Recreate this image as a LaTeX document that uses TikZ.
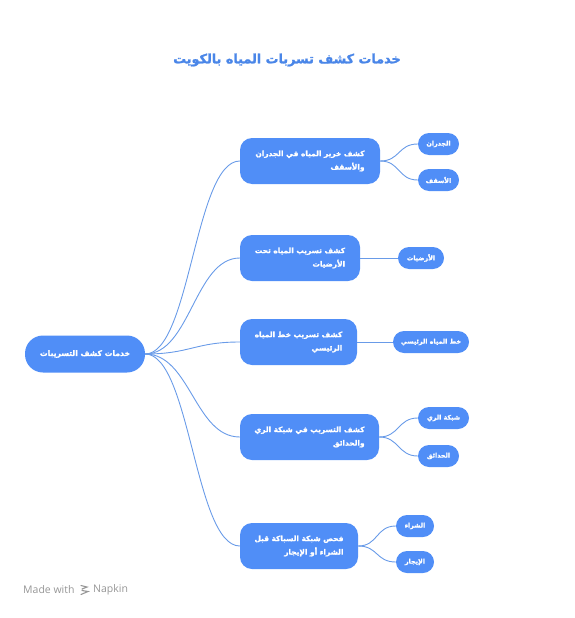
\documentclass[tikz,border=0pt]{standalone}
\usepackage{fontspec}
\usetikzlibrary{calc}
\TeXXeTstate=1
\newfontfamily\arabicbold[Script=Arabic, FakeBold=1.6]{DejaVu Sans Bold}
\newfontfamily\wmfont{Open Sans}
\definecolor{nodeblue}{RGB}{80,142,247}
\definecolor{lineblue}{RGB}{105,155,232}
\definecolor{titleblue}{RGB}{74,134,232}
\definecolor{wmgray}{RGB}{150,150,150}
\begin{document}
\begin{tikzpicture}[x=1pt,y=-1pt,
  midbox/.style={fill=nodeblue, rounded corners=12pt, minimum height=46pt, inner xsep=6pt, inner ysep=0pt, text=white, font=\arabicbold\fontsize{7.4}{13.5}\selectfont, align=right},
  rootbox/.style={fill=nodeblue, rounded corners=18pt, minimum height=37pt, minimum width=120pt, inner sep=0pt, text=white, font=\arabicbold\fontsize{7.7}{10}\selectfont},
  leafbox/.style={fill=nodeblue, rounded corners=11pt, minimum height=22pt, inner sep=0pt, text=white, font=\arabicbold\fontsize{6.4}{9}\selectfont},
  conn/.style={draw=lineblue, line width=0.9pt},
]
\useasboundingbox (0,0) rectangle (574,618);

\node[text=titleblue, font=\arabicbold\fontsize{12.8}{15}\selectfont] (title) at (287,60) {\beginR خدمات كشف تسربات المياه بالكويت\endR};

\node[rootbox] (root) at (85,354) {\beginR خدمات كشف التسريبات\endR};

\node[midbox, minimum width=140pt] (m1) at (310,161) {\beginR كشف خرير المياه في الجدران\endR\\\beginR والأسقف\endR};
\node[midbox, minimum width=120pt] (m2) at (300,258) {\beginR كشف تسريب المياه تحت\endR\\\beginR الأرضيات\endR};
\node[midbox, minimum width=117pt] (m3) at (298.5,342) {\beginR كشف تسريب خط المياه\endR\\\beginR الرئيسي\endR};
\node[midbox, minimum width=139pt] (m4) at (309.5,437) {\beginR كشف التسريب في شبكة الري\endR\\\beginR والحدائق\endR};
\node[midbox, minimum width=118pt] (m5) at (299,546) {\beginR فحص شبكة السباكة قبل\endR\\\beginR الشراء أو الإيجار\endR};

\node[leafbox, minimum width=41pt] (l1a) at (438.5,144) {\beginR الجدران\endR};
\node[leafbox, minimum width=41pt] (l1b) at (438.5,180) {\beginR الأسقف\endR};
\node[leafbox, minimum width=46pt] (l2a) at (421,258) {\beginR الأرضيات\endR};
\node[leafbox, minimum width=76pt] (l3a) at (431,342) {\beginR خط المياه الرئيسي\endR};
\node[leafbox, minimum width=51pt] (l4a) at (443.5,418) {\beginR شبكة الري\endR};
\node[leafbox, minimum width=41pt] (l4b) at (438.5,456) {\beginR الحدائق\endR};
\node[leafbox, minimum width=38pt] (l5a) at (415,526) {\beginR الشراء\endR};
\node[leafbox, minimum width=38pt] (l5b) at (415,562) {\beginR الإيجار\endR};

\foreach \m in {m1,m2,m3,m4,m5}{
  \draw[conn] (root.east) .. controls +(45,0) and +(-45,0) .. (\m.west);
}
\draw[conn] (m1.east) .. controls +(20,0) and +(-20,0) .. (l1a.west);
\draw[conn] (m1.east) .. controls +(20,0) and +(-20,0) .. (l1b.west);
\draw[conn] (m2.east) -- (l2a.west);
\draw[conn] (m3.east) -- (l3a.west);
\draw[conn] (m4.east) .. controls +(20,0) and +(-20,0) .. (l4a.west);
\draw[conn] (m4.east) .. controls +(20,0) and +(-20,0) .. (l4b.west);
\draw[conn] (m5.east) .. controls +(20,0) and +(-20,0) .. (l5a.west);
\draw[conn] (m5.east) .. controls +(20,0) and +(-20,0) .. (l5b.west);

\node[anchor=west, text=wmgray, font=\wmfont\fontsize{10.5}{12}\selectfont, inner sep=0pt] (wm1) at (23,590) {Made with};
\coordinate (lg) at (85,590);
\draw[wmgray, line width=1.1pt, line cap=round] ($(lg)+(-4,-4.5)$) -- ($(lg)+(2,-3)$) -- ($(lg)+(-3,-1)$) ($(lg)+(-3,0.5)$) -- ($(lg)+(3,1.5)$) -- ($(lg)+(-4,4.5)$);
\node[anchor=west, text=wmgray, font=\wmfont\fontsize{10.5}{12}\selectfont, inner sep=0pt] (wm2) at (93,590) {Napkin};
\end{tikzpicture}
\end{document}
